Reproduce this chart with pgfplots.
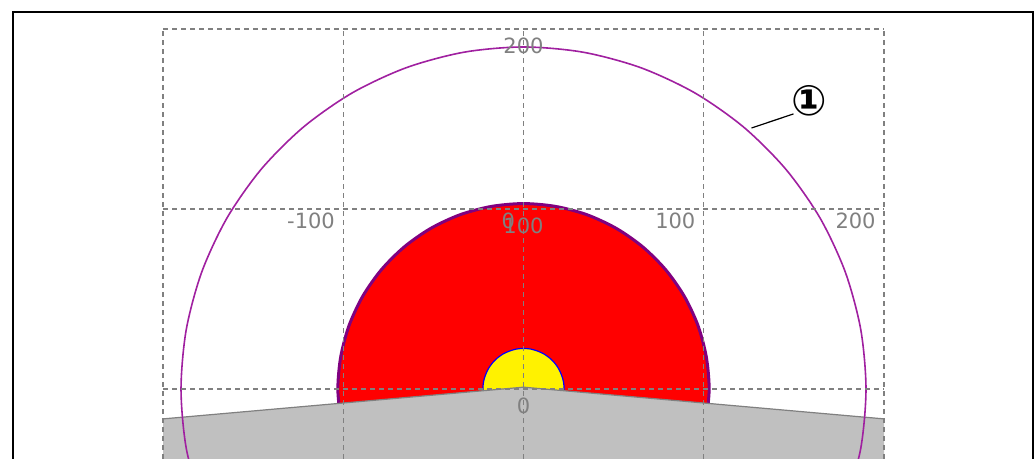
\documentclass[border=0pt]{standalone}
\usepackage{pgfplots}
\pgfplotsset{compat=1.18}
\usepackage{fontspec}
\setmainfont{DejaVu Sans}
\definecolor{circ}{HTML}{A020A0}
\definecolor{redline}{HTML}{800080}
\definecolor{gridgray}{HTML}{808080}
\definecolor{terrain}{HTML}{C0C0C0}
\begin{document}
\begin{tikzpicture}
\path[use as bounding box, clip] (0pt,0pt) rectangle (518pt,229.5pt);
\fill[white] (0pt,0pt) rectangle (518pt,229.5pt);
\draw[black, line width=1pt] (6.25pt,-20pt) -- (6.25pt,223.25pt) -- (516.25pt,223.25pt) -- (516.25pt,-20pt);
\begin{axis}[
  at={(81.5pt,0pt)}, anchor=south west,
  x=0.90125pt, y=0.9pt,
  xmin=-200, xmax=200, ymin=-38.9, ymax=200,
  axis line style={draw=none},
  xtick={-200,-100,0,100,200}, ytick={0,100,200},
  xticklabels={}, yticklabels={},
  major tick length=0pt,
  grid=major,
  major grid style={draw=gridgray, line width=0.6pt, dash pattern=on 2.5pt off 2pt},
  axis on top,
  clip=true,
]
% red zone r=103
\addplot[fill=red, draw=redline, line width=1.5pt, smooth] coordinates {
(101.4,-17.9) (103,0) (101.4,17.9) (96.8,35.2) (89.2,51.5) (78.9,66.2) (66.2,78.9) (51.5,89.2) (35.2,96.8) (17.9,101.4) (0,103)
(-17.9,101.4) (-35.2,96.8) (-51.5,89.2) (-66.2,78.9) (-78.9,66.2) (-89.2,51.5) (-96.8,35.2) (-101.4,17.9) (-103,0) (-101.4,-17.9)} -- cycle;
% yellow zone r=22.5
\addplot[fill=yellow, draw=blue, line width=0.6pt, smooth] coordinates {
(22.2,-3.9) (22.5,0) (22.2,3.9) (21.1,7.7) (19.5,11.25) (17.2,14.5) (14.5,17.2) (11.25,19.5) (7.7,21.1) (3.9,22.2) (0,22.5)
(-3.9,22.2) (-7.7,21.1) (-11.25,19.5) (-14.5,17.2) (-17.2,14.5) (-19.5,11.25) (-21.1,7.7) (-22.2,3.9) (-22.5,0) (-22.2,-3.9)} -- cycle;
% terrain
\addplot[fill=terrain, draw=gridgray, line width=0.6pt] coordinates {
(-210,-60) (-210,-17.5) (-100,-7.8) (0,1) (100,-7.8) (210,-17.5) (210,-60) (-210,-60)};
% outer circle r=190
\addplot[draw=circ, line width=0.8pt, smooth] coordinates {
(178.5,-65) (187.1,-33) (190,0) (187.1,33) (178.5,65) (164.5,95) (145.5,122.1) (122.1,145.5) (95,164.5) (65,178.5) (33,187.1) (0,190)
(-33,187.1) (-65,178.5) (-95,164.5) (-122.1,145.5) (-145.5,122.1) (-164.5,95) (-178.5,65) (-187.1,33) (-190,0) (-187.1,-33) (-178.5,-65)};
% leader
\addplot[draw=black, line width=0.6pt] coordinates {(126.5,145) (149.8,152.8)};
\node[font=\bfseries\fontsize{21pt}{23pt}\selectfont, inner sep=0pt] at (axis cs:158.7,160) {①};
% tick labels
\begin{scope}[every node/.style={font=\fontsize{10.5pt}{12pt}\selectfont, text=gridgray, inner sep=0pt}]
\node[anchor=north east, xshift=-4pt, yshift=-2pt] at (axis cs:-100,100) {-100};
\node[anchor=north east, xshift=-4pt, yshift=-2pt] at (axis cs:0,100) {0};
\node[anchor=north east, xshift=-4pt, yshift=-2pt] at (axis cs:100,100) {100};
\node[anchor=north east, xshift=-4pt, yshift=-2pt] at (axis cs:200,100) {200};
\node[anchor=north, yshift=-4.5pt] at (axis cs:0,0) {0};
\node[anchor=north, yshift=-4.5pt] at (axis cs:0,100) {100};
\node[anchor=north, yshift=-4.5pt] at (axis cs:0,200) {200};
\end{scope}
\end{axis}
\end{tikzpicture}
\end{document}
